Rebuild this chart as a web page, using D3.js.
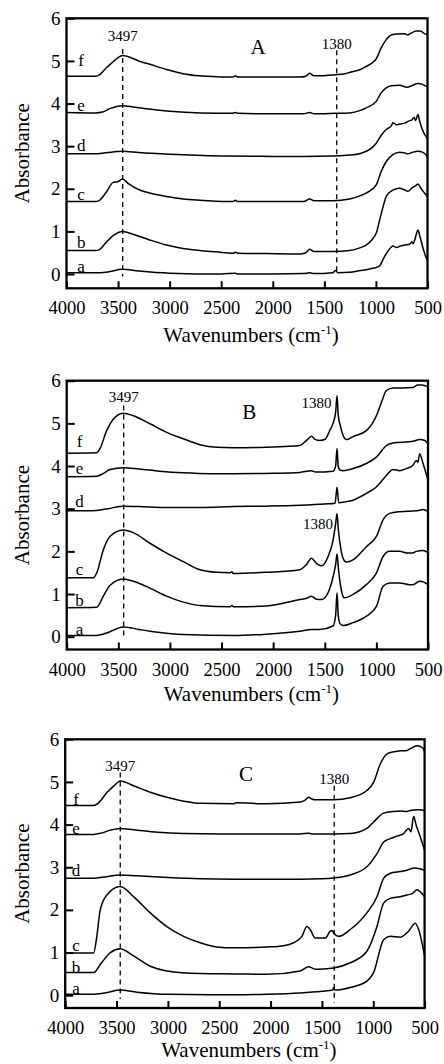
<!DOCTYPE html>
<html><head><meta charset="utf-8">
<script src="https://cdn.jsdelivr.net/npm/d3@7"></script>
<style>
html,body{margin:0;padding:0;background:#fff;}
svg{display:block;}
svg text{font-family:"Liberation Serif","Times New Roman",serif !important;fill:#000;}
</style></head>
<body>
<svg id="chart" width="444" height="1064"></svg>
<script>
// ---------- DATA ----------
const xTicks = [4000, 3500, 3000, 2500, 2000, 1500, 1000, 500];
const yTicks = [0, 1, 2, 3, 4, 5, 6];
const seriesNames = ["a", "b", "c", "d", "e", "f"];
const panelNames = ["A", "B", "C"];
const xTitle = "Wavenumbers (cm";
const xTitleSup = "-1";
const yTitle = "Absorbance";

// Panel A spectra [wavenumber, absorbance]
const A_a = [[4000,0.03],[3720,0.03],[3600,0.05],[3458,0.11],[3300,0.07],[3000,0.02],[2500,0.0],[2360,0.02],[2340,0.0],[2000,0.0],[1700,0.01],[1643,0.03],[1600,0.01],[1420,0.03],[1391,0.08],[1370,0.03],[1256,0.04],[1150,0.08],[1094,0.1],[1020,0.14],[964,0.19],[930,0.35],[880,0.55],[835,0.66],[800,0.62],[770,0.65],[720,0.68],[673,0.70],[650,0.76],[640,0.71],[624,0.80],[610,0.92],[593,1.03],[570,0.85],[540,0.58],[512,0.38],[500,0.33]];
const A_b = [[4000,0.55],[3720,0.55],[3677,0.58],[3613,0.75],[3548,0.9],[3458,1.00],[3400,0.97],[3290,0.88],[3193,0.80],[3031,0.68],[2870,0.60],[2708,0.55],[2547,0.52],[2386,0.49],[2360,0.51],[2340,0.49],[2063,0.48],[1740,0.47],[1680,0.50],[1643,0.58],[1600,0.53],[1500,0.53],[1417,0.53],[1256,0.55],[1150,0.62],[1094,0.68],[1040,0.80],[997,0.96],[950,1.40],[900,1.82],[860,1.93],[836,1.97],[771,2.01],[720,1.97],[690,1.94],[650,2.02],[610,2.08],[594,2.11],[560,2.00],[530,1.90],[500,1.82]];
const A_c = [[4000,1.70],[3720,1.70],[3680,1.73],[3620,1.90],[3548,2.15],[3500,2.17],[3458,2.23],[3400,2.12],[3290,1.97],[3193,1.90],[3031,1.82],[2870,1.76],[2708,1.73],[2547,1.71],[2386,1.70],[2360,1.73],[2340,1.70],[2000,1.70],[1700,1.70],[1643,1.76],[1600,1.72],[1417,1.72],[1256,1.76],[1150,1.84],[1094,1.90],[997,2.09],[950,2.40],[900,2.64],[836,2.80],[771,2.86],[720,2.84],[690,2.82],[640,2.86],[594,2.88],[550,2.86],[500,2.76]];
const A_d = [[4000,2.82],[3700,2.82],[3600,2.85],[3458,2.88],[3300,2.85],[3000,2.81],[2500,2.77],[2000,2.76],[1700,2.76],[1417,2.77],[1256,2.79],[1150,2.83],[1094,2.88],[1040,2.96],[997,3.07],[950,3.25],[900,3.39],[850,3.48],[836,3.55],[800,3.50],[771,3.52],[720,3.54],[690,3.58],[650,3.62],[630,3.68],[615,3.60],[594,3.74],[575,3.58],[552,3.40],[500,3.17]];
const A_e = [[4000,3.79],[3720,3.78],[3650,3.80],[3580,3.88],[3458,3.95],[3350,3.92],[3200,3.87],[3000,3.82],[2700,3.78],[2400,3.77],[2360,3.79],[2340,3.77],[2000,3.76],[1700,3.76],[1643,3.79],[1600,3.76],[1400,3.77],[1256,3.78],[1150,3.84],[1094,3.90],[997,4.05],[950,4.25],[900,4.37],[850,4.42],[770,4.43],[700,4.38],[650,4.42],[594,4.47],[550,4.45],[500,4.39]];
const A_f = [[4000,4.64],[3720,4.64],[3677,4.68],[3613,4.84],[3548,4.98],[3500,5.08],[3458,5.13],[3400,5.10],[3290,4.99],[3193,4.92],[3031,4.80],[2870,4.70],[2708,4.65],[2547,4.63],[2386,4.62],[2360,4.65],[2340,4.62],[2063,4.62],[1740,4.62],[1680,4.64],[1643,4.71],[1610,4.66],[1578,4.65],[1417,4.67],[1300,4.70],[1256,4.73],[1150,4.80],[1094,4.87],[1040,4.95],[997,5.05],[950,5.30],[900,5.50],[860,5.60],[800,5.63],[720,5.64],[690,5.61],[660,5.65],[610,5.70],[570,5.70],[530,5.64],[500,5.62]];

// Panel B spectra
const B_a = [[4000,0.03],[3710,0.03],[3620,0.08],[3452,0.23],[3300,0.17],[3194,0.13],[2871,0.05],[2387,0.03],[2065,0.06],[1742,0.13],[1629,0.17],[1550,0.17],[1420,0.25],[1395,0.50],[1381,1.03],[1370,0.50],[1350,0.30],[1323,0.26],[1226,0.33],[1097,0.48],[1000,0.71],[935,1.18],[871,1.26],[774,1.26],[680,1.22],[645,1.22],[581,1.30],[540,1.28],[500,1.22]];
const B_b = [[4000,0.68],[3710,0.69],[3645,0.95],[3581,1.20],[3452,1.35],[3355,1.30],[3194,1.14],[3032,0.95],[2871,0.81],[2710,0.73],[2420,0.70],[2400,0.73],[2380,0.70],[2065,0.72],[1742,0.87],[1677,0.90],[1629,0.95],[1581,0.88],[1532,0.87],[1468,1.03],[1419,1.41],[1394,1.70],[1381,1.94],[1368,1.60],[1340,1.10],[1310,0.91],[1226,0.99],[1097,1.22],[1000,1.49],[935,1.88],[871,2.00],[774,2.00],[700,1.96],[650,1.96],[613,2.00],[548,2.02],[500,1.97]];
const B_c = [[4000,1.38],[3742,1.38],[3710,1.49],[3645,2.04],[3581,2.35],[3452,2.50],[3355,2.44],[3194,2.19],[3032,1.96],[2871,1.76],[2710,1.57],[2548,1.51],[2420,1.50],[2400,1.52],[2387,1.48],[2065,1.51],[1742,1.57],[1677,1.69],[1629,1.84],[1581,1.72],[1532,1.66],[1468,1.88],[1419,2.27],[1394,2.66],[1381,2.89],[1368,2.50],[1340,2.00],[1310,1.78],[1290,1.75],[1226,1.80],[1097,2.11],[1000,2.35],[935,2.74],[871,2.89],[774,2.93],[613,2.95],[548,2.98],[500,2.93]];
const B_d = [[4000,2.95],[3710,2.96],[3600,3.00],[3452,3.06],[3300,3.05],[3000,3.03],[2700,3.03],[2387,3.05],[2065,3.06],[1742,3.08],[1500,3.11],[1400,3.13],[1381,3.50],[1365,3.14],[1300,3.16],[1226,3.20],[1097,3.36],[1000,3.51],[903,3.78],[839,3.92],[774,3.89],[710,3.94],[645,4.02],[612,4.13],[597,4.09],[581,4.29],[548,4.06],[500,3.67]];
const B_e = [[4000,3.75],[3710,3.76],[3650,3.82],[3580,3.92],[3452,3.96],[3300,3.93],[3100,3.88],[2871,3.84],[2600,3.82],[2387,3.82],[2000,3.83],[1742,3.85],[1629,3.89],[1590,3.86],[1420,3.88],[1395,4.00],[1381,4.41],[1370,4.00],[1350,3.90],[1323,3.89],[1226,3.94],[1097,4.06],[1000,4.21],[903,4.48],[839,4.54],[645,4.58],[581,4.62],[530,4.60],[500,4.52]];
const B_f = [[4000,4.30],[3710,4.31],[3677,4.41],[3613,4.83],[3548,5.10],[3452,5.24],[3355,5.18],[3194,4.99],[3032,4.79],[2871,4.64],[2710,4.50],[2548,4.44],[2387,4.43],[2065,4.44],[1800,4.47],[1742,4.48],[1677,4.60],[1629,4.70],[1590,4.62],[1548,4.60],[1500,4.62],[1452,4.83],[1420,5.00],[1395,5.25],[1381,5.65],[1370,5.20],[1350,4.95],[1323,4.72],[1290,4.62],[1226,4.69],[1097,4.83],[1000,5.18],[950,5.50],[903,5.77],[839,5.83],[750,5.83],[645,5.84],[600,5.90],[560,5.90],[500,5.86]];

// Panel C spectra
const C_a = [[4000,0.02],[3724,0.02],[3600,0.06],[3464,0.12],[3300,0.07],[3000,0.02],[2360,0.01],[2036,0.02],[1711,0.05],[1500,0.09],[1395,0.12],[1386,0.18],[1375,0.12],[1224,0.18],[1062,0.33],[997,0.53],[899,1.30],[834,1.38],[737,1.36],[656,1.50],[591,1.69],[558,1.54],[500,0.92]];
const C_b = [[4000,0.53],[3724,0.53],[3650,0.75],[3560,1.00],[3464,1.09],[3334,0.92],[3172,0.68],[3010,0.57],[2685,0.51],[2360,0.50],[2036,0.49],[1711,0.57],[1630,0.67],[1565,0.61],[1386,0.64],[1224,0.76],[1062,1.03],[964,1.61],[899,2.16],[834,2.27],[737,2.31],[672,2.35],[620,2.38],[575,2.47],[540,2.42],[500,2.31]];
const C_c = [[4000,0.99],[3724,0.99],[3692,1.38],[3659,2.00],[3594,2.35],[3464,2.55],[3334,2.31],[3172,1.93],[3010,1.61],[2847,1.38],[2685,1.23],[2523,1.13],[2360,1.11],[2036,1.13],[1873,1.16],[1776,1.23],[1695,1.38],[1646,1.61],[1614,1.54],[1565,1.34],[1468,1.34],[1419,1.50],[1400,1.52],[1386,1.46],[1338,1.38],[1224,1.54],[1062,1.93],[964,2.31],[899,2.74],[834,2.86],[737,2.90],[672,2.93],[600,2.98],[560,2.97],[500,2.93]];
const C_d = [[4000,2.74],[3724,2.74],[3600,2.78],[3464,2.82],[3300,2.80],[3000,2.76],[2685,2.73],[2360,2.72],[2036,2.72],[1711,2.72],[1500,2.73],[1386,2.75],[1224,2.82],[1062,3.01],[964,3.32],[899,3.59],[834,3.67],[769,3.73],[705,3.79],[656,3.91],[633,3.83],[607,4.19],[581,3.98],[542,3.71],[500,3.40]];
const C_e = [[4000,3.77],[3724,3.77],[3650,3.80],[3560,3.87],[3464,3.91],[3334,3.88],[3100,3.82],[2847,3.79],[2500,3.78],[2036,3.78],[1711,3.78],[1630,3.80],[1600,3.78],[1386,3.78],[1224,3.79],[1062,3.91],[997,4.06],[899,4.27],[800,4.31],[737,4.32],[672,4.31],[640,4.33],[575,4.35],[530,4.34],[500,4.32]];
const C_f = [[4000,4.45],[3724,4.45],[3680,4.50],[3594,4.75],[3520,4.92],[3464,5.02],[3334,4.91],[3172,4.76],[3010,4.64],[2847,4.55],[2685,4.50],[2360,4.49],[2340,4.51],[2036,4.49],[1711,4.53],[1660,4.58],[1630,4.64],[1600,4.60],[1565,4.58],[1386,4.58],[1224,4.63],[1062,4.80],[997,4.99],[932,5.42],[870,5.65],[834,5.69],[737,5.73],[672,5.74],[640,5.78],[575,5.85],[540,5.83],[510,5.77],[500,5.70]];

// Annotation values (data units)
const markersA = [{label:"3497", wn:3455, textY:5.47, top:5.28, bottom:-0.06}, {label:"1380", wn:1380, textY:5.27, top:5.25, bottom:0.0}];
const markersB = [{label:"3497", wn:3448, textY:5.49, top:5.42, bottom:-0.06}];
const markersC = [{label:"3497", wn:3464, textY:5.26, top:5.22, bottom:-0.09}, {label:"1380", wn:1380, textY:4.95, top:4.91, bottom:-0.17}];
const extraLabelsB = [{label:"1380", wn:1581, y:5.36}, {label:"1380", wn:1565, y:2.53}];
const letterYA = [0.05, 0.60, 1.74, 2.88, 3.83, 4.87];
const letterYB = [0.03, 0.71, 1.44, 3.05, 3.82, 4.44];
const letterYC = [0.02, 0.51, 1.03, 2.80, 3.79, 4.45];
const letterWn = [3858, 3876, 3895];
const panelTitlePos = [{wn:2142, y:5.17}, {wn:2232, y:5.10}, {wn:2240, y:5.03}];

// ---------- DRAW ----------
const SERIF = "'Liberation Serif','Times New Roman',serif";
const svg = d3.select("#chart");
const layouts = [
  {left:66.5, right:427.5, top:18.3, bottom:288.3, yMin:-0.335, titleY:342},
  {left:66.7, right:428,   top:380.7, bottom:649.5, yMin:-0.30, titleY:701},
  {left:65.2, right:424.6, top:739.3, bottom:1008,  yMin:-0.30, titleY:1057}
];
const panelSeries = [[A_a,A_b,A_c,A_d,A_e,A_f],[B_a,B_b,B_c,B_d,B_e,B_f],[C_a,C_b,C_c,C_d,C_e,C_f]];
const panelMarkers = [markersA, markersB, markersC];
const panelLetterY = [letterYA, letterYB, letterYC];
const panelExtra = [[], extraLabelsB, []];

function serifText(sel, size) {
  return sel.attr("font-family", SERIF).style("font-family", SERIF).attr("font-size", size).attr("fill", "#000");
}

panelNames.forEach((pname, pi) => {
  const L = layouts[pi];
  const x = d3.scaleLinear().domain([4000, 500]).range([L.left, L.right]);
  const y = d3.scaleLinear().domain([L.yMin, 6]).range([L.bottom, L.top]);
  const g = svg.append("g");

  // curves
  const line = d3.line().x(d => x(d[0])).y(d => y(d[1])).curve(d3.curveMonotoneX);
  panelSeries[pi].forEach(s => {
    g.append("path").attr("d", line(s)).attr("fill", "none")
      .attr("stroke", "#000").attr("stroke-width", 1.5).attr("stroke-linejoin", "round");
  });

  // x axis (ticks inward)
  const xAxis = d3.axisBottom(x).tickValues(xTicks).tickSize(-7).tickPadding(13).tickFormat(d3.format("d"));
  const xg = g.append("g").attr("transform", `translate(0,${L.bottom})`).call(xAxis);
  xg.attr("font-family", SERIF);
  xg.select(".domain").remove();
  xg.selectAll(".tick line").attr("stroke", "#000").attr("stroke-width", 2);
  serifText(xg.selectAll(".tick text"), 18.5);

  // y axis (ticks inward)
  const yAxis = d3.axisLeft(y).tickValues(yTicks).tickSize(-8).tickPadding(6).tickFormat(d3.format("d"));
  const yg = g.append("g").attr("transform", `translate(${L.left},0)`).call(yAxis);
  yg.attr("font-family", SERIF);
  yg.select(".domain").remove();
  yg.selectAll(".tick line").attr("stroke", "#000").attr("stroke-width", 2);
  serifText(yg.selectAll(".tick text"), 19);

  // frame
  g.append("rect").attr("x", L.left).attr("y", L.top)
    .attr("width", L.right - L.left).attr("height", L.bottom - L.top)
    .attr("fill", "none").attr("stroke", "#000").attr("stroke-width", 2.3);

  // dashed markers
  panelMarkers[pi].forEach(m => {
    g.append("line").attr("x1", x(m.wn)).attr("x2", x(m.wn))
      .attr("y1", y(m.top)).attr("y2", y(m.bottom))
      .attr("stroke", "#000").attr("stroke-width", 1.3).attr("stroke-dasharray", "5,4");
    serifText(g.append("text"), 15).attr("x", x(m.wn)).attr("y", y(m.textY))
      .attr("text-anchor", "middle").text(m.label);
  });
  panelExtra[pi].forEach(m => {
    serifText(g.append("text"), 15).attr("x", x(m.wn)).attr("y", y(m.y))
      .attr("text-anchor", "middle").text(m.label);
  });

  // series letters
  seriesNames.forEach((n, si) => {
    serifText(g.append("text"), 17).attr("x", x(letterWn[pi])).attr("y", y(panelLetterY[pi][si]))
      .attr("text-anchor", "middle").text(n);
  });

  // panel title
  serifText(g.append("text"), 21).attr("x", x(panelTitlePos[pi].wn)).attr("y", y(panelTitlePos[pi].y))
    .attr("text-anchor", "middle").text(pname);

  // axis titles
  const xt = serifText(g.append("text"), 21).attr("x", (L.left + L.right) / 2 + 4).attr("y", L.titleY)
    .attr("text-anchor", "middle");
  xt.append("tspan").text(xTitle);
  xt.append("tspan").attr("dy", -8).attr("font-size", 13).text(xTitleSup);
  xt.append("tspan").attr("dy", 8).text(")");

  serifText(g.append("text"), 21).attr("transform", `translate(29,${(L.top + L.bottom) / 2}) rotate(-90)`)
    .attr("text-anchor", "middle").text(yTitle);
});
</script>
</body></html>
